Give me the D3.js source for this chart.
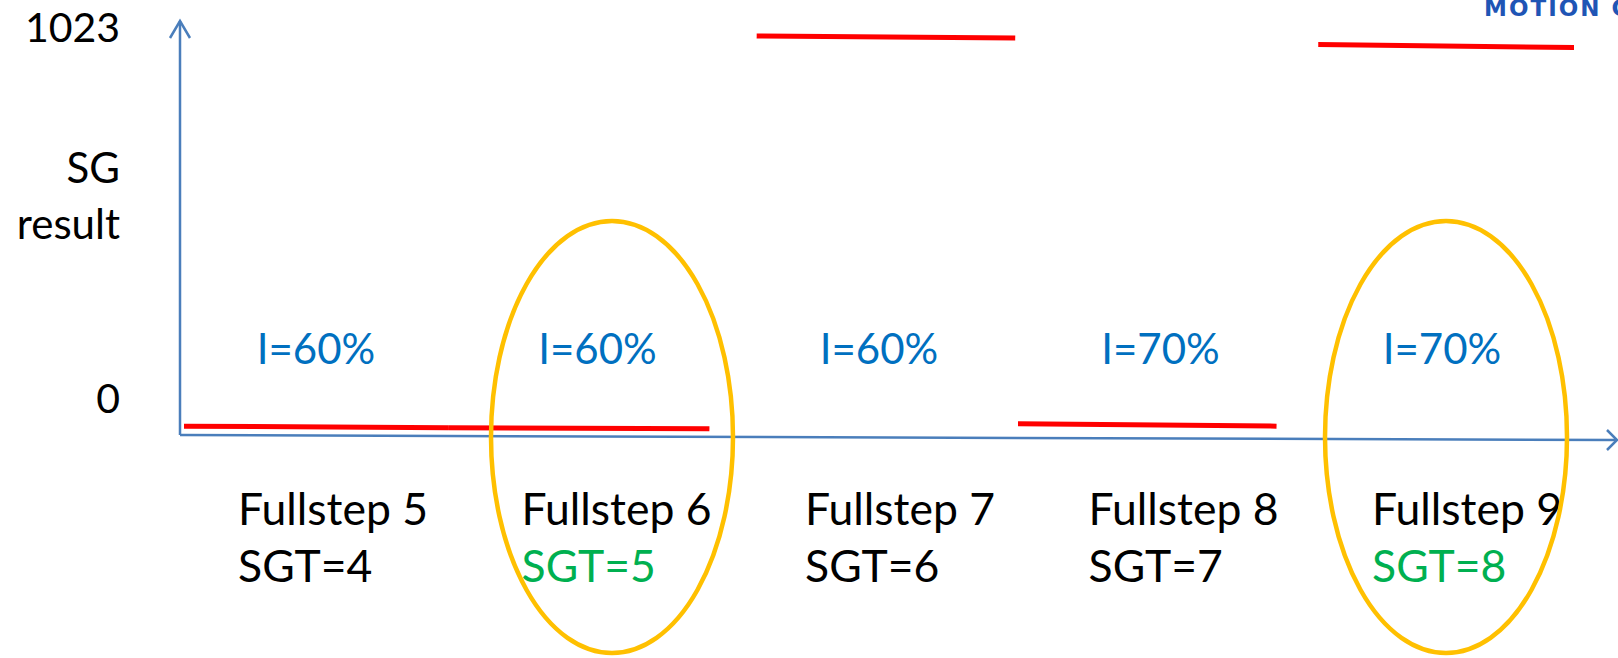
<!DOCTYPE html>
<html>
<head>
<meta charset="utf-8">
<script src="https://cdn.jsdelivr.net/npm/d3@7"></script>
<style>
  body { margin: 0; background: #fff; }
  svg { display: block; font-family: Lato, "Open Sans", sans-serif; }
</style>
</head>
<body>
<div id="chart"></div>
<script>
// values
const categories = ["Fullstep 5", "Fullstep 6", "Fullstep 7", "Fullstep 8", "Fullstep 9"];
const stepNumbers = [5, 6, 7, 8, 9];
const sgtValues = [4, 5, 6, 7, 8];
const currentPct = [60, 60, 60, 70, 70];
// each step's SG result trace, x in fullstep units
const segStart = [5.0, 5.95, 7.06, 8.0, 9.08];
const segEnd = [5.95, 6.89, 7.99, 8.93, 10.0];
const sgStartValues = [10, 6, 1023, 16, 1001];
const sgEndValues = [6, 3, 1018, 10, 993];
const highlighted = ["Fullstep 6", "Fullstep 9"];
const yTickValues = [0, 1023];
const yTitle = ["SG", "result"];

const width = 1618;
const height = 658;
const axisColor = "#4a7ebb";

const svg = d3.select("#chart")
  .append("svg")
  .attr("width", width)
  .attr("height", height);

// scales
const x = d3.scaleLinear().domain([5, 10]).range([184, 1574]);
const y = d3.scaleLinear().domain([0, 1023]).range([430, 36]);
const tickY = d3.scaleLinear().domain([0, 1023]).range([413, 42]);
const labelX = d3.scalePoint().domain(categories).range([238, 1372]);
const currentX = d3.scalePoint().domain(categories).range([316, 1442]);

const origin = [180, 435];
const xEnd = [1617, 440];
const yTop = [180, 21];

// axes (arrows)
const line = d3.line();
svg.append("path")
  .attr("d", line([origin, xEnd]))
  .attr("fill", "none").attr("stroke", axisColor).attr("stroke-width", 2.5);
svg.append("path")
  .attr("d", line([[xEnd[0] - 10, xEnd[1] - 10], xEnd, [xEnd[0] - 10, xEnd[1] + 10]]))
  .attr("fill", "none").attr("stroke", axisColor).attr("stroke-width", 2.5);
svg.append("path")
  .attr("d", line([origin, yTop]))
  .attr("fill", "none").attr("stroke", axisColor).attr("stroke-width", 2.5);
svg.append("path")
  .attr("d", line([[yTop[0] - 10, yTop[1] + 17], yTop, [yTop[0] + 10, yTop[1] + 17]]))
  .attr("fill", "none").attr("stroke", axisColor).attr("stroke-width", 2.5);

// y tick labels and title
svg.selectAll(".ytick")
  .data(yTickValues)
  .enter()
  .append("text")
  .attr("class", "ytick")
  .attr("x", 120)
  .attr("y", (d) => tickY(d))
  .attr("text-anchor", "end")
  .attr("font-size", 41)
  .attr("fill", "#000")
  .text((d) => d);

svg.selectAll(".ytitle")
  .data(yTitle)
  .enter()
  .append("text")
  .attr("class", "ytitle")
  .attr("x", 120)
  .attr("y", (d, i) => 183 + i * 56)
  .attr("text-anchor", "end")
  .attr("font-size", 42)
  .attr("fill", "#000")
  .text((d) => d);

// SG result traces
const segments = categories.map((c, i) => ({
  name: c,
  x0: segStart[i], x1: segEnd[i],
  v0: sgStartValues[i], v1: sgEndValues[i],
}));

svg.selectAll(".trace")
  .data(segments)
  .enter()
  .append("line")
  .attr("class", "trace")
  .attr("x1", (d) => x(d.x0))
  .attr("x2", (d) => x(d.x1))
  .attr("y1", (d) => y(d.v0))
  .attr("y2", (d) => y(d.v1))
  .attr("stroke", "#ff0000")
  .attr("stroke-width", 5);

// current labels
svg.selectAll(".current")
  .data(categories)
  .enter()
  .append("text")
  .attr("class", "current")
  .attr("x", (d) => currentX(d))
  .attr("y", 364)
  .attr("text-anchor", "middle")
  .attr("font-size", 42)
  .attr("fill", "#0070c0")
  .text((d, i) => `I=${currentPct[i]}%`);

// step + SGT labels
svg.selectAll(".step")
  .data(categories)
  .enter()
  .append("text")
  .attr("class", "step")
  .attr("x", (d) => labelX(d))
  .attr("y", 525)
  .attr("font-size", 44.5)
  .attr("fill", "#000")
  .text((d) => d);

svg.selectAll(".sgt")
  .data(categories)
  .enter()
  .append("text")
  .attr("class", "sgt")
  .attr("x", (d) => labelX(d))
  .attr("y", 582)
  .attr("font-size", 44.5)
  .attr("fill", (d) => (highlighted.includes(d) ? "#00b050" : "#000"))
  .text((d, i) => `SGT=${sgtValues[i]}`);

// highlight ellipses around the chosen steps
svg.selectAll(".mark")
  .data(highlighted)
  .enter()
  .append("ellipse")
  .attr("class", "mark")
  .attr("cx", (d) => x(stepNumbers[categories.indexOf(d)] + 0.5) + 11)
  .attr("cy", 437)
  .attr("rx", 121)
  .attr("ry", 216)
  .attr("fill", "none")
  .attr("stroke", "#ffc000")
  .attr("stroke-width", 4.5);

// logo text, cut by the page edge as in the source
svg.append("text")
  .attr("x", 1484)
  .attr("y", 16)
  .attr("font-family", "DejaVu Sans")
  .attr("font-weight", "bold")
  .attr("font-size", 23)
  .attr("letter-spacing", 2)
  .attr("fill", "#1f55b5")
  .text("MOTION C");
</script>
</body>
</html>
